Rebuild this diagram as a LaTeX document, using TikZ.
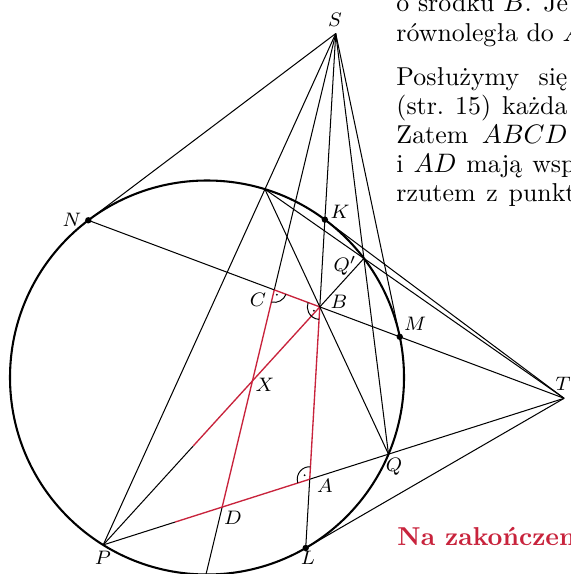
\documentclass[tikz,border=0pt]{standalone}
\usepackage{fontspec}
\usetikzlibrary{calc}
\definecolor{crim}{RGB}{200,35,60}
\begin{document}
\begin{tikzpicture}[x=0.41pt,y=-0.41pt,
  geo/.style={line width=0.42pt, black},
  redseg/.style={line width=0.55pt, crim},
  circ/.style={line width=0.85pt, black},
  lab/.style={font=\fontsize{8.3}{10}\selectfont, inner sep=0pt},
  txt/.style={anchor=base west, inner sep=0pt, font=\fontsize{10.6}{12}\selectfont},
  ramark/.style={line width=0.4pt, black}]
\useasboundingbox (0,0) rectangle (570,574);
\clip (0,0) rectangle (570,574);
% circle and points on it
\coordinate (O) at (207,377.5);
\coordinate (P) at ($(O)+(121.8:197)$);
\coordinate (Q) at ($(O)+(22.9:197)$);
\coordinate (R) at ($(O)+(-72.9:197)$);
\coordinate (Qp) at ($(O)+(-37.2:197)$);
\coordinate (E) at ($(O)+(90.3:197)$);
\coordinate (N) at ($(O)+(-127.06:197)$);
\coordinate (M) at ($(O)+(-11.92:197)$);
\coordinate (K) at ($(O)+(-53.25:197)$);
\coordinate (L) at ($(O)+(59.93:197)$);
% derived points
\coordinate (S) at (intersection of P--R and Q--Qp);
\coordinate (T) at (intersection of P--Q and R--Qp);
\coordinate (B) at (intersection of P--Qp and R--Q);
\coordinate (A) at (intersection of K--L and P--Q);
\coordinate (C) at (intersection of S--E and N--M);
\coordinate (D) at (intersection of S--E and P--Q);
\coordinate (X) at (intersection of S--E and P--B);
\coordinate (D1) at ($(P)!0.2517!(Q)$);
\coordinate (B1) at ($(P)!0.416!(B)$);
% circle
\draw[circ] (O) circle[radius=197];
% lines through S
\draw[geo] (S) -- (N);
\draw[geo] (S) -- (P);
\draw[geo] (S) -- (C);
\draw[redseg] (C) -- (D);
\draw[geo] (D) -- (E);
\draw[geo] (S) -- (B);
\draw[redseg] (B) -- (A);
\draw[geo] (A) -- (L);
\draw[geo] (S) -- (Q);
\draw[geo] (S) -- (M);
% lines through T
\draw[geo] (N) -- (C);
\draw[redseg] (C) -- (B);
\draw[geo] (B) -- (T);
\draw[geo] (P) -- (D1);
\draw[redseg] (D1) -- (A);
\draw[geo] (A) -- (T);
\draw[geo] (R) -- (T);
\draw[geo] (K) -- (T);
\draw[geo] (L) -- (T);
% other lines
\draw[geo] (P) -- (B1);
\draw[redseg] (B1) -- (B);
\draw[geo] (B) -- (Qp);
\draw[geo] (R) -- (Q);
% right angle marks
\draw[ramark] ($(C)+(20.6:12.5)$) arc[start angle=20.6, end angle=103.5, radius=12.5];
\fill ($(C)+(62:5.5)$) circle[radius=1];
\draw[ramark] ($(B)+(93.4:12.5)$) arc[start angle=93.4, end angle=200.6, radius=12.5];
\fill ($(B)+(147:7)$) circle[radius=1];
\draw[ramark] ($(A)+(162.4:12.5)$) arc[start angle=162.4, end angle=273.4, radius=12.5];
\fill ($(A)+(218:6.5)$) circle[radius=1];
% dots
\fill (N) circle[radius=3.2];
\fill (K) circle[radius=3.2];
\fill (M) circle[radius=3.2];
\fill (L) circle[radius=3.2];
% labels
\node[lab] (lS) at (335,20) {$S$};
\node[lab] (lN) at (72,220) {$N$};
\node[lab] (lK) at (340,212) {$K$};
\node[lab] (lQp) at (345,266) {$Q'$};
\node[lab] (lC) at (258,300) {$C$};
\node[lab] (lB) at (339,302) {$B$};
\node[lab] (lM) at (415,324) {$M$};
\node[lab] (lX) at (265,385) {$X$};
\node[lab] (lA) at (325,486) {$A$};
\node[lab] (lQ) at (394,467) {$Q$};
\node[lab] (lD) at (233,518) {$D$};
\node[lab] (lP) at (103,558) {$P$};
\node[lab] (lL) at (308,558) {$L$};
\node[lab] (lT) at (563,384) {$T$};
% text
\node[txt] (t1) at (396,12) {o środku $B$. Je};
\node[txt] (t2) at (396,41.5) {równoległa do $A$};
\node[txt] (t3) at (396,86) {\makebox[70.1pt][s]{Posłużymy się}};
\node[txt] (t4) at (396,115) {\makebox[70.1pt][s]{(str.~15) każda}};
\node[txt] (t5) at (396,144) {\makebox[70.1pt][s]{Zatem $ABCD$}};
\node[txt] (t6) at (396,173) {\makebox[73.4pt][s]{i $AD$ mają wsp}};
\node[txt] (t7) at (396,202) {\makebox[73.4pt][s]{rzutem z punkt}};
\node[txt, text=crim, font=\fontsize{10.6}{12}\selectfont\bfseries] (t8) at (397,545) {Na zakończen};
\end{tikzpicture}
\end{document}
